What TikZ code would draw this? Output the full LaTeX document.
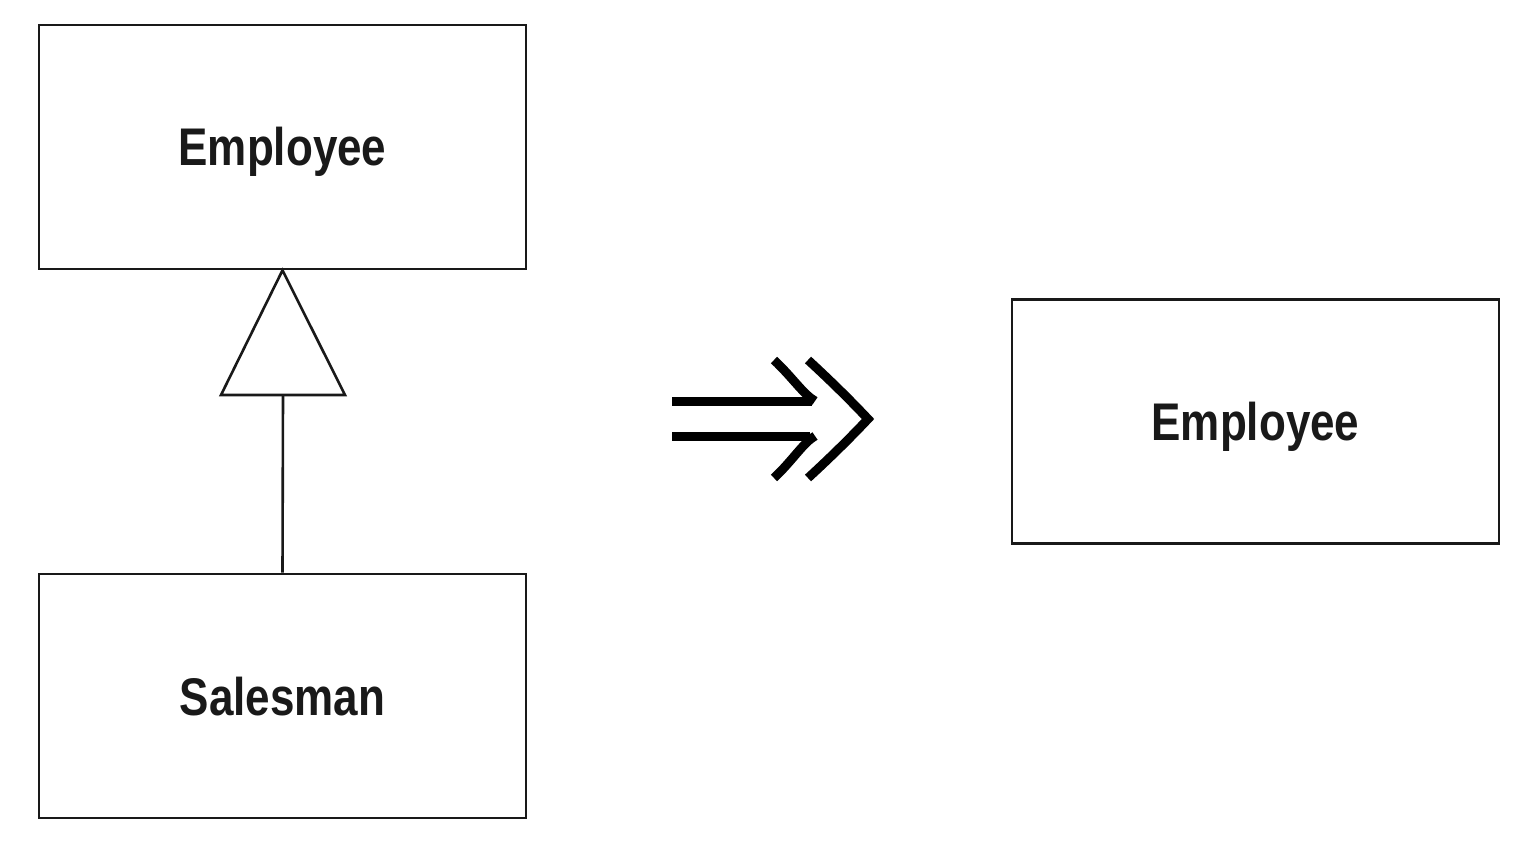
\documentclass[tikz,border=0pt]{standalone}
\usepackage{fontspec}
\newfontfamily\lblfont[FakeStretch=0.83]{Liberation Sans}
\usetikzlibrary{calc}
\begin{document}
\begin{tikzpicture}[x=1pt,y=-1pt,
  box/.style={draw=black!90, line width=2.6pt, rectangle, minimum width=487pt, minimum height=244pt,
    inner sep=0pt, font=\lblfont\bfseries\fontsize{53}{60}\selectfont, text=black!90,
    text height=38pt, text depth=0pt},
  conn/.style={draw=black!90, line width=2.6pt},
  bigarrow/.style={draw=black, line width=9pt}]
\useasboundingbox (0,0) rectangle (1526,842);
\node[box] (emp) at (282.5,147) {Employee};
\node[box] (sal) at (282.5,696) {Salesman};
\node[box] (emp2) at (1255.5,421.5) {Employee};
\coordinate (tb) at (283,395);
\draw[conn, line join=miter] (emp.south) -- ($(tb)+(-62,0)$) -- ($(tb)+(62,0)$) -- cycle;
\draw[conn] (tb) -- (sal.north);
% refactoring arrow
\draw[bigarrow] (672,401) -- (812,401);
\draw[bigarrow] (672,436) -- (810,436);
\draw[bigarrow] (774,360) .. controls (793,378) and (803,394) .. (815,401);
\draw[bigarrow] (815,436) .. controls (803,443) and (793,460) .. (774,478);
\draw[bigarrow, line join=miter] (808,360) .. controls (832,382) and (852,402) .. (868,419) .. controls (852,436) and (832,456) .. (808,478);
\end{tikzpicture}
\end{document}
